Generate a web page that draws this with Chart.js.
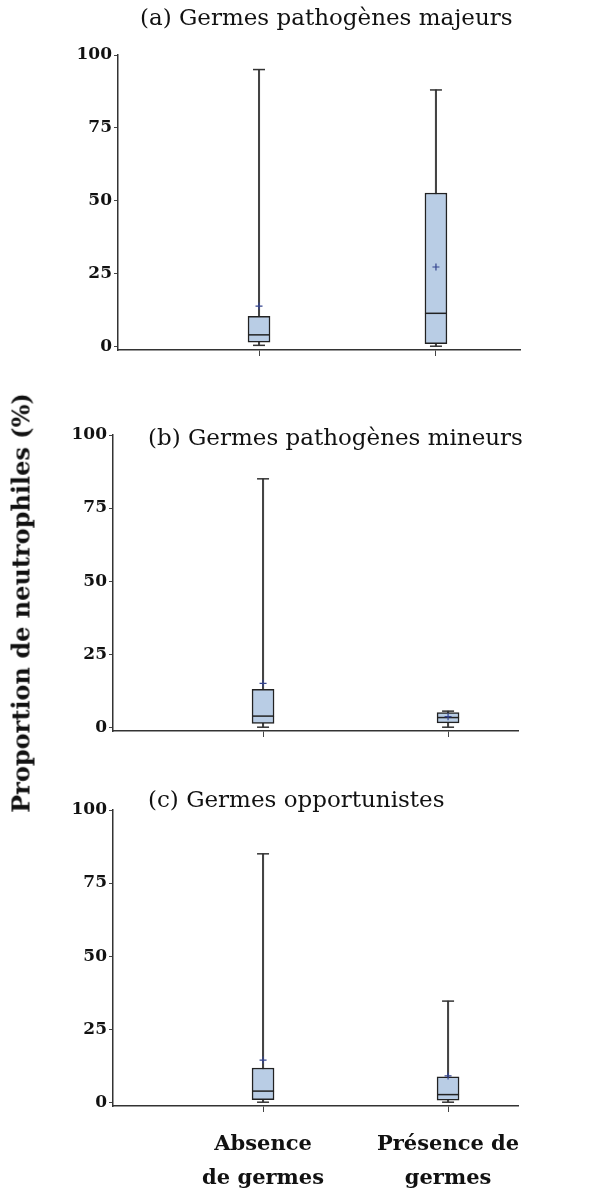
<!DOCTYPE html>
<html>
<head>
<meta charset="utf-8">
<script src="https://cdn.jsdelivr.net/npm/chart.js@4.4.1/dist/chart.umd.min.js"></script>
<style>
  html, body { margin: 0; padding: 0; background: #fff; }
  body { width: 594px; height: 1203px; position: relative; overflow: hidden; font-family: "DejaVu Serif", serif; color: #111; }
  canvas { position: absolute; left: 0; }
  .title { position: absolute; font-size: 23px; line-height: 1; white-space: nowrap; color: #111; }
  #ytitle { position: absolute; left: 21px; top: 603px; transform: translate(-50%, -50%) rotate(-90deg);
            font-weight: bold; font-size: 24px; white-space: nowrap; color: #111; }
</style>
</head>
<body>
<canvas id="ca" width="594" height="370" style="top:0px"></canvas>
<canvas id="cb" width="594" height="365" style="top:395px"></canvas>
<canvas id="cc" width="594" height="428" style="top:775px"></canvas>
<div class="title" id="ta" style="left:140px; top:6px"></div>
<div class="title" id="tb" style="left:148px; top:426px"></div>
<div class="title" id="tc" style="left:148px; top:788px"></div>
<div id="ytitle"></div>

<script>
// Groups compared in every panel
const groups = ['Absence de germes', 'Présence de germes'];
const groupTickLabels = [['Absence', 'de germes'], ['Présence de', 'germes']];
const panelTitles = ['(a) Germes pathogènes majeurs', '(b) Germes pathogènes mineurs', '(c) Germes opportunistes'];
const yAxisTitle = 'Proportion de neutrophiles (%)';
const yTickValues = [0, 25, 50, 75, 100];

// (a) major pathogens: [absence, présence]
const majeursMin    = [0.3, 0];
const majeursQ1     = [1.4, 0.9];
const majeursMedian = [3.9, 11.3];
const majeursQ3     = [10.3, 52.6];
const majeursMax    = [95, 88];
const majeursMean   = [13.8, 27.2];

// (b) minor pathogens
const mineursMin    = [0, 0];
const mineursQ1     = [1.3, 1.5];
const mineursMedian = [3.8, 3.3];
const mineursQ3     = [13, 5];
const mineursMax    = [85, 5.5];
const mineursMean   = [15, 3.6];

// (c) opportunists
const opportMin    = [0, 0];
const opportQ1     = [0.9, 0.7];
const opportMedian = [3.8, 2.6];
const opportQ3     = [11.7, 8.7];
const opportMax    = [85, 34.6];
const opportMean   = [14.4, 9];

const FONT = '"DejaVu Serif", serif';
const INK = '#222';

function points(values) {
  return values.map((v, i) => ({ x: i + 1, y: v }));
}

function buildDatasets(min, q1, med, q3, max, mean) {
  return [
    { // whisker line min..max
      type: 'bar', data: groups.map((g, i) => ({ x: i + 1, y: [min[i], max[i]] })),
      barThickness: 1.4, backgroundColor: '#444', borderWidth: 0, grouped: false, order: 3
    },
    { // interquartile box
      type: 'bar', data: groups.map((g, i) => ({ x: i + 1, y: [q1[i], q3[i]] })),
      barThickness: 22, backgroundColor: '#b9cde5', borderColor: INK, borderWidth: 1.5,
      borderSkipped: false, grouped: false, order: 2
    },
    { // whisker caps
      type: 'line', data: points(max).concat(points(min)), showLine: false,
      pointStyle: 'line', pointRadius: 6, borderColor: '#333', borderWidth: 1.5, order: 1
    },
    { // median
      type: 'line', data: points(med), showLine: false,
      pointStyle: 'line', pointRadius: 11, borderColor: INK, borderWidth: 1.5, order: 1
    },
    { // mean
      type: 'line', data: points(mean), showLine: false,
      pointStyle: 'cross', pointRadius: 3.5, borderColor: '#34448f', borderWidth: 1.2, order: 0
    }
  ];
}

function makePanel(id, datasets, lay) {
  new Chart(document.getElementById(id), {
    data: { datasets },
    options: {
      responsive: false, animation: false, events: [],
      layout: { padding: { top: lay.top, right: lay.right, left: 0, bottom: 0 } },
      plugins: { legend: { display: false }, tooltip: { enabled: false } },
      scales: {
        x: {
          type: 'linear', min: lay.xMin, max: lay.xMax, offset: false,
          afterBuildTicks: s => { s.ticks = groups.map((g, i) => ({ value: i + 1 })); },
          afterFit: s => { s.height = lay.xHeight; },
          ticks: {
            callback: v => lay.showLabels ? groupTickLabels[v - 1] : '',
            font: { family: FONT, size: 21, weight: 'bold', lineHeight: 1.6 },
            color: '#111', padding: 16, maxRotation: 0, autoSkip: false
          },
          grid: { offset: false, drawOnChartArea: false, drawTicks: true, tickLength: 6, color: '#444', lineWidth: 1 },
          border: { color: '#333', width: 1.5 }
        },
        y: {
          min: -1.3, max: 100,
          afterBuildTicks: s => { s.ticks = yTickValues.map(v => ({ value: v })); },
          afterFit: s => { s.width = lay.left; },
          ticks: { font: { family: FONT, size: 17, weight: 'bold' }, color: '#111', padding: 2 },
          grid: { drawOnChartArea: false, drawTicks: true, tickLength: 4, color: '#444', lineWidth: 1 },
          border: { color: '#333', width: 1.5 }
        }
      }
    }
  });
}

document.getElementById('ta').textContent = panelTitles[0];
document.getElementById('tb').textContent = panelTitles[1];
document.getElementById('tc').textContent = panelTitles[2];
document.getElementById('ytitle').textContent = yAxisTitle;

makePanel('ca', buildDatasets(majeursMin, majeursQ1, majeursMedian, majeursQ3, majeursMax, majeursMean),
  { top: 55, right: 74, left: 118, xHeight: 20, xMin: 0.203, xMax: 2.475, showLabels: false });
makePanel('cb', buildDatasets(mineursMin, mineursQ1, mineursMedian, mineursQ3, mineursMax, mineursMean),
  { top: 40, right: 76, left: 113, xHeight: 29, xMin: 0.189, xMax: 2.378, showLabels: false });
makePanel('cc', buildDatasets(opportMin, opportQ1, opportMedian, opportQ3, opportMax, opportMean),
  { top: 35, right: 76, left: 113, xHeight: 97, xMin: 0.189, xMax: 2.378, showLabels: true });
</script>
</body>
</html>
